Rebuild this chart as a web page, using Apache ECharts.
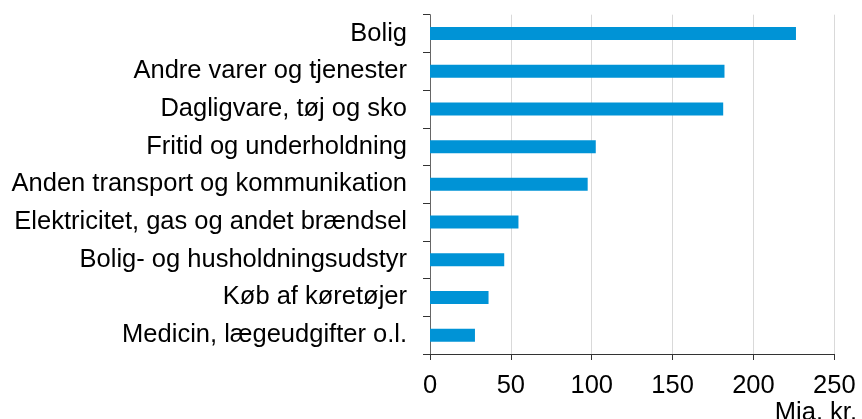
<!DOCTYPE html>
<html>
<head>
<meta charset="utf-8">
<script src="https://cdn.jsdelivr.net/npm/echarts@6/dist/echarts.min.js"></script>
<style>html,body{margin:0;padding:0;background:#fff}#c{width:862px;height:419px}</style>
</head>
<body>
<div id="c"></div>
<script>
const categories = [
  "Bolig",
  "Andre varer og tjenester",
  "Dagligvare, tøj og sko",
  "Fritid og underholdning",
  "Anden transport og kommunikation",
  "Elektricitet, gas og andet brændsel",
  "Bolig- og husholdningsudstyr",
  "Køb af køretøjer",
  "Medicin, lægeudgifter o.l."
];
const values = [226.3, 182.1, 181.3, 102.5, 97.5, 54.7, 45.9, 36.2, 27.8];
const xTicks = [0, 50, 100, 150, 200, 250];
const unitLabel = "Mia. kr.";

const chart = echarts.init(document.getElementById('c'), null, {renderer: 'canvas'});
const font = "'Liberation Sans', Arial, sans-serif";
chart.setOption({
  animation: false,
  grid: {left: 430, right: 27.7, top: 14.7, bottom: 65, containLabel: false},
  xAxis: {
    type: 'value',
    min: xTicks[0], max: xTicks[xTicks.length - 1], interval: 50,
    axisLine: {show: true, lineStyle: {color: '#333', width: 1}},
    axisTick: {show: true, length: 6, lineStyle: {color: '#333'}},
    splitLine: {show: true, lineStyle: {color: '#d9d9d9', width: 1}},
    axisLabel: {color: '#000', fontSize: 25.5, fontFamily: font, margin: 19}
  },
  yAxis: {
    type: 'category',
    inverse: true,
    data: categories,
    axisLine: {show: true, lineStyle: {color: '#666', width: 1}},
    axisTick: {show: true, length: 7, alignWithLabel: false, lineStyle: {color: '#333'}},
    axisLabel: {color: '#000', fontSize: 25.5, fontFamily: font, margin: 23}
  },
  series: [{
    type: 'bar',
    data: values,
    barWidth: 13,
    itemStyle: {color: '#0093d6'}
  }],
  graphic: [{
    type: 'text',
    right: 5,
    top: 400,
    style: {text: unitLabel, fill: '#000', font: '25.5px ' + font}
  }]
});
</script>
</body>
</html>
